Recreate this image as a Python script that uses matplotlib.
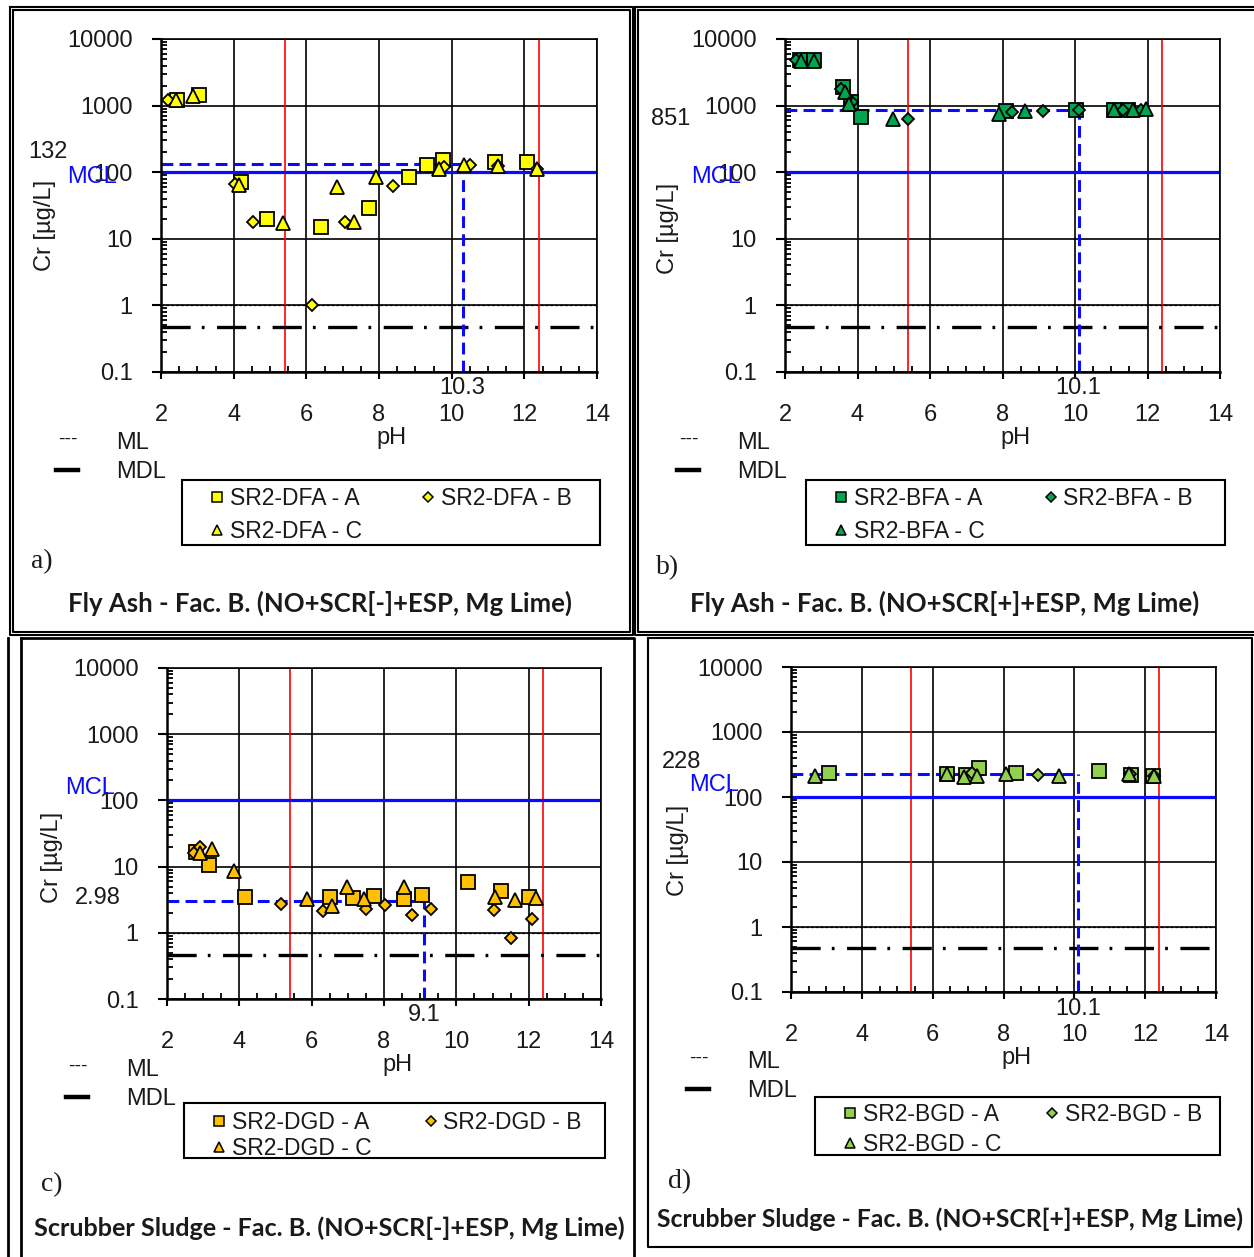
import matplotlib
matplotlib.use("Agg")
import matplotlib.pyplot as plt
import matplotlib.transforms as mtransforms
from matplotlib.lines import Line2D
from matplotlib.patches import Rectangle
from matplotlib.ticker import FixedLocator, MultipleLocator, LogLocator, NullFormatter

plt.rcParams['font.family'] = ['Liberation Sans', 'DejaVu Sans']
plt.rcParams['lines.scale_dashes'] = False

# ---------------- data ----------------
# a) Fly ash, SCR[-]
dfa_a_ph = [2.43, 3.05, 4.19, 4.93, 6.40, 7.72, 8.83, 9.33, 9.77, 11.19, 12.08]
dfa_a_cr = [1230, 1450, 71, 20, 15, 29, 85, 129, 154, 142, 144]
dfa_b_ph = [2.20, 4.04, 4.52, 6.16, 7.06, 8.39, 9.80, 10.50, 11.28, 12.36]
dfa_b_cr = [1200, 66, 18, 1.0, 18, 62, 120, 129, 122, 110]
dfa_c_ph = [2.41, 2.89, 4.16, 5.37, 6.84, 7.32, 7.92, 9.66, 10.35, 11.28, 12.34]
dfa_c_cr = [1230, 1380, 65, 17, 60, 18, 85, 112, 129, 122, 110]

# b) Fly ash, SCR[+]
bfa_a_ph = [2.41, 2.81, 3.61, 3.82, 4.09, 8.10, 10.04, 11.07, 11.45]
bfa_a_cr = [4900, 4800, 1900, 1120, 680, 830, 850, 860, 860]
bfa_b_ph = [2.29, 3.54, 3.86, 5.38, 8.27, 9.12, 10.12, 11.33, 11.83]
bfa_b_cr = [4900, 1800, 1150, 630, 790, 830, 860, 860, 870]
bfa_c_ph = [2.44, 2.81, 3.65, 3.76, 4.98, 7.90, 8.63, 11.08, 11.60, 11.97]
bfa_c_cr = [4700, 4600, 1600, 1070, 630, 760, 820, 870, 870, 880]

# c) Scrubber sludge, SCR[-]
dgd_a_ph = [2.81, 3.16, 4.15, 6.51, 7.15, 7.72, 8.55, 9.05, 10.31, 11.23, 12.01]
dgd_a_cr = [16.4, 10.6, 3.5, 3.5, 3.4, 3.6, 3.2, 3.7, 5.9, 4.3, 3.5]
dgd_b_ph = [2.74, 2.90, 5.16, 6.32, 7.49, 8.03, 8.77, 9.31, 11.03, 11.51, 12.10]
dgd_b_cr = [16, 20, 2.76, 2.1, 2.3, 2.6, 1.86, 2.3, 2.2, 0.83, 1.6]
dgd_c_ph = [2.92, 3.25, 3.85, 5.86, 6.55, 6.97, 7.45, 8.56, 11.08, 11.61, 12.20]
dgd_c_cr = [16, 18.7, 8.6, 3.2, 2.5, 4.9, 3.2, 4.9, 3.5, 3.1, 3.4]

# d) Scrubber sludge, SCR[+]
bgd_a_ph = [3.07, 6.41, 6.93, 7.32, 8.34, 10.71, 11.59, 12.23]
bgd_a_cr = [238, 224, 219, 275, 238, 250, 219, 214]
bgd_b_ph = [7.10, 8.98, 11.57, 12.25]
bgd_b_cr = [230, 215, 222, 214]
bgd_c_ph = [2.68, 6.41, 6.88, 7.24, 8.08, 9.58, 11.55, 12.25]
bgd_c_cr = [210, 222, 206, 208, 228, 210, 225, 212]

# regulatory / analytical limits [ug/L]
mcl = 100
ml = 1.0
mdl = 0.47
# natural pH range
ph_range = [5.4, 12.4]

y_ticks = [0.1, 1, 10, 100, 1000, 10000]
y_tick_labels = ["0.1", "1", "10", "100", "1000", "10000"]
x_ticks = [2, 4, 6, 8, 10, 12, 14]

# ---------------- figure ----------------
W, H = 1254, 1257
fig = plt.figure(figsize=(W / 100, H / 100), dpi=100)


def fx(x):
    return x / W


def fy(y):
    return 1 - y / H


def ftext(x, y, s, **kw):
    kw.setdefault('ha', 'center')
    kw.setdefault('va', 'center')
    kw.setdefault('fontsize', 17)
    fig.text(fx(x), fy(y), s, **kw)


def fline(xs, ys, lw=1.5, color='black', **kw):
    fig.add_artist(Line2D([fx(v) for v in xs], [fy(v) for v in ys],
                          transform=fig.transFigure, lw=lw, color=color, **kw))


BLUE = '#0A0AFF'
TXT = '#1a1a1a'


def panel(box, series, color, names, med_ph, med_cr, med_lbl, med_lbl_xy,
          ph_lbl, ph_lbl_y, mcl_xy, ylabel_xy, mini_xy, leg_box, leg_layout,
          tag, tag_xy, title, title_xy, title_size):
    x0, y0, x1, y1 = box
    ax = fig.add_axes([fx(x0), fy(y1), (x1 - x0) / W, (y1 - y0) / H])
    ax.set_yscale('log')
    ax.set_xlim(2, 14)
    ax.set_ylim(0.1, 10000)

    ax.xaxis.set_major_locator(FixedLocator(x_ticks))
    ax.xaxis.set_minor_locator(MultipleLocator(0.5))
    ax.set_yticks(y_ticks)
    ax.set_yticklabels(y_tick_labels)
    ax.yaxis.set_minor_locator(LogLocator(base=10, subs=range(2, 10), numticks=20))
    ax.yaxis.set_minor_formatter(NullFormatter())

    ax.tick_params(axis='x', which='major', direction='out', length=5, width=1.5,
                   pad=18, labelsize=17, labelcolor=TXT)
    ax.tick_params(axis='y', which='major', direction='out', length=6.5, width=1.5,
                   pad=14, labelsize=17, labelcolor=TXT)
    ax.tick_params(axis='both', which='minor', direction='in', length=4, width=1.3)

    ax.grid(True, which='major', color='black', lw=1.2, zorder=0)
    ax.set_axisbelow(True)
    for side in ['left', 'bottom']:
        ax.spines[side].set_linewidth(1.8)
    for side in ['top', 'right']:
        ax.spines[side].set_linewidth(1.2)

    # pH window, limits and median intersection
    for p in ph_range:
        ax.axvline(p, color='#FF0000', lw=1.2, zorder=2)
    ax.axhline(mcl, color=BLUE, lw=2.3, zorder=2)
    ax.axhline(ml, color='black', lw=0.9, ls=(0, (2, 1.5)), zorder=2)
    ax.axhline(mdl, color='black', lw=2.4, ls=(0, (21, 8, 2, 9)), zorder=2)
    dash = (0, (8.5, 4.5))
    ax.plot([2, med_ph], [med_cr, med_cr], color=BLUE, lw=2.2, ls=dash, zorder=2.5)
    ax.plot([med_ph, med_ph], [0.1, med_cr], color=BLUE, lw=2.2, ls=dash, zorder=2.5,
            clip_on=False)

    markers = [('s', 10), ('D', 6.5), ('^', 10)]
    handles = []
    for (xs, ys), (m, ms), name in zip(series, markers, names):
        ax.plot(xs, ys, ls='none', marker=m, ms=ms, mfc=color, mec='black',
                mew=1.3, zorder=3, clip_on=False)
        handles.append(Line2D([], [], ls='none', marker=m, ms=ms * 0.72, mfc=color,
                              mec='black', mew=1.1, label=name))

    # annotations
    ftext(*med_lbl_xy, med_lbl, color=TXT)
    blend = mtransforms.blended_transform_factory(ax.transData, fig.transFigure)
    ax.text(med_ph, fy(ph_lbl_y), ph_lbl, transform=blend, ha='center', va='center',
            fontsize=17, color=TXT)
    ftext(*mcl_xy, "MCL", color=BLUE)
    ftext(*ylabel_xy, "Cr [µg/L]", rotation=90, color=TXT)
    ftext((x0 + x1) / 2 + 13, y1 + 66, "pH", color=TXT)

    # ML / MDL key
    mx, my = mini_xy
    ftext(mx, my - 2, "---", fontsize=14, color=TXT)
    ftext(mx + 48, my + 2, "ML", ha='left', color=TXT)
    fline([mx - 12, mx + 10], [my + 29, my + 29], lw=3.2)
    ftext(mx + 48, my + 31, "MDL", ha='left', color=TXT)

    # series legend
    lx0, ly0, lx1, ly1 = leg_box
    row1_y, row_sp, col_sp = leg_layout
    fig.add_artist(Rectangle((fx(lx0), fy(ly1)), (lx1 - lx0) / W, (ly1 - ly0) / H,
                             transform=fig.transFigure, fill=False, lw=1.5,
                             edgecolor='black'))
    order = [handles[0], handles[2], handles[1]]
    fig.legend(handles=order, labels=[h.get_label() for h in order], ncol=2,
               loc='upper left', bbox_to_anchor=(fx(lx0 + 12), fy(row1_y - 26)),
               bbox_transform=fig.transFigure, frameon=False, fontsize=16.5,
               handlelength=0.6, handletextpad=0.25, columnspacing=col_sp,
               labelspacing=row_sp, borderpad=0.2, labelcolor=TXT)

    ftext(*tag_xy, tag, family='Liberation Serif', fontsize=20, color=TXT)
    ftext(*title_xy, title, family='Lato', fontweight='bold', fontsize=title_size,
          color=TXT)
    return ax


panel((161, 39, 597, 372),
      [(dfa_a_ph, dfa_a_cr), (dfa_b_ph, dfa_b_cr), (dfa_c_ph, dfa_c_cr)],
      '#FFFF00', ["SR2-DFA - A", "SR2-DFA - B", "SR2-DFA - C"],
      10.3, 132, "132", (48, 152), "10.3", 388, (92, 177), (45, 225), (68, 441),
      (182, 480, 600, 545), (497, 0.42, 2.6), "a)", (42, 562),
      "Fly Ash - Fac. B. (NO+SCR[-]+ESP, Mg Lime)", (320, 603), 18.5)

panel((785, 39, 1220, 372),
      [(bfa_a_ph, bfa_a_cr), (bfa_b_ph, bfa_b_cr), (bfa_c_ph, bfa_c_cr)],
      '#00A550', ["SR2-BFA - A", "SR2-BFA - B", "SR2-BFA - C"],
      10.1, 851, "851", (671, 119), "10.1", 388, (716, 177), (668, 228), (689, 441),
      (806, 480, 1225, 545), (497, 0.42, 2.6), "b)", (668, 568),
      "Fly Ash - Fac. B. (NO+SCR[+]+ESP, Mg Lime)", (945, 603), 18.5)

panel((167, 668, 601, 999),
      [(dgd_a_ph, dgd_a_cr), (dgd_b_ph, dgd_b_cr), (dgd_c_ph, dgd_c_cr)],
      '#FFC000', ["SR2-DGD - A", "SR2-DGD - B", "SR2-DGD - C"],
      9.1, 2.98, "2.98", (98, 898), "9.1", 1015, (90, 788), (52, 857), (78, 1068),
      (184, 1103, 605, 1158), (1121, 0.11, 2.3), "c)", (52, 1185),
      "Scrubber Sludge - Fac. B. (NO+SCR[-]+ESP, Mg Lime)", (329, 1228), 18.1)

panel((791, 667, 1216, 992),
      [(bgd_a_ph, bgd_a_cr), (bgd_b_ph, bgd_b_cr), (bgd_c_ph, bgd_c_cr)],
      '#92D050', ["SR2-BGD - A", "SR2-BGD - B", "SR2-BGD - C"],
      10.1, 228, "228", (682, 762), "10.1", 1009, (714, 785), (678, 850), (699, 1060),
      (815, 1097, 1220, 1155), (1113, 0.29, 1.95), "d)", (680, 1182),
      "Scrubber Sludge - Fac. B. (NO+SCR[+]+ESP, Mg Lime)", (950, 1219), 17.8)


# panel frames
def frame(x0, y0, x1, y1, lw=1.5):
    fline([x0, x1, x1, x0, x0], [y0, y0, y1, y1, y0], lw=lw)


frame(10, 7, 633, 635)
frame(13, 10, 630, 632)
frame(635, 7, 1258, 635)
frame(638, 10, 1258, 632)
frame(21, 638, 634, 1262, lw=2)
fline([8, 8], [638, 1262], lw=2)
frame(648, 638, 1252, 1247, lw=1.5)

fig.savefig("out.png", dpi=100)
